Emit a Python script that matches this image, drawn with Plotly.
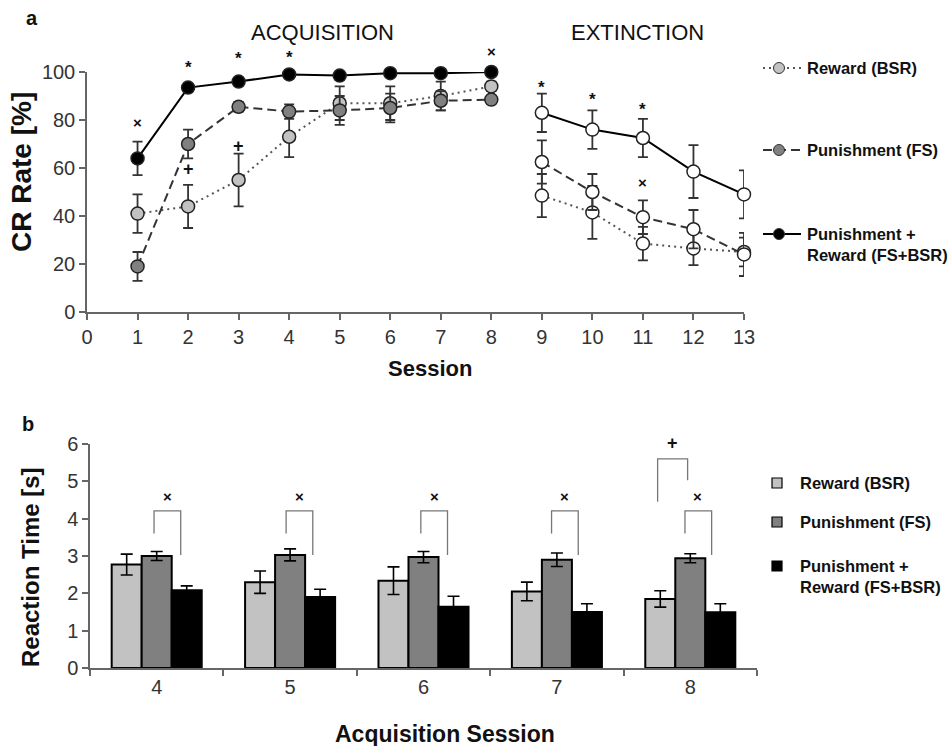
import plotly.graph_objects as go

W, H = 950, 746

# ---------------- Data: panel a (CR rate) ----------------
acq_sessions = [1, 2, 3, 4, 5, 6, 7, 8]
ext_sessions = [9, 10, 11, 12, 13]

reward_acq = [41, 44, 55, 73, 87, 87, 90, 94]
reward_acq_err = [8, 9, 11, 8.5, 7, 7, 6, 2]
punish_acq = [19, 70, 85.5, 83.5, 84, 85, 88, 88.5]
punish_acq_err = [6, 6, 2, 3, 6, 6, 4, 1.5]
combo_acq = [64, 93.5, 96, 99, 98.5, 99.5, 99.5, 100]
combo_acq_err = [7, 1.5, 1.5, 0.5, 1, 0.5, 0.5, 0.5]

reward_ext = [48.5, 41.5, 28.5, 26.5, 25]
reward_ext_err = [9, 11, 7, 7, 6]
punish_ext = [62.5, 50, 39.5, 34.5, 24]
punish_ext_err = [9, 7.5, 7, 8, 9]
combo_ext = [83, 76, 72.5, 58.5, 49]
combo_ext_err = [8, 8, 8, 11, 10]

x_ticks_a = list(range(0, 14))
y_ticks_a = [0, 20, 40, 60, 80, 100]

# significance marks panel a: (session, y, symbol)
sig_a = [(1, 79, "×"), (2, 102, "*"), (3, 105.5, "*"), (4, 106, "*"), (8, 108.5, "×"),
         (2, 59.5, "+"), (3, 69, "+"),
         (9, 93.5, "*"), (10, 88.5, "*"), (11, 84.5, "*"), (11, 54, "×")]

# ---------------- Data: panel b (reaction time) ----------------
rt_sessions = [4, 5, 6, 7, 8]
rt_reward = [2.77, 2.3, 2.34, 2.05, 1.85]
rt_reward_err = [0.28, 0.3, 0.37, 0.25, 0.22]
rt_punish = [3.0, 3.03, 2.97, 2.9, 2.94]
rt_punish_err = [0.12, 0.16, 0.15, 0.18, 0.12]
rt_combo = [2.08, 1.9, 1.64, 1.5, 1.49]
rt_combo_err = [0.12, 0.21, 0.28, 0.22, 0.23]
y_ticks_b = [0, 1, 2, 3, 4, 5, 6]

# brackets panel b: (session, left offset, right offset, top, left bottom, right bottom, symbol, sym offset, sym y)
brackets_b = [
    (4, -0.02, 0.18, 4.21, 3.6, 3.03, "×", 0.08, 4.6),
    (5, -0.03, 0.17, 4.21, 3.6, 3.03, "×", 0.07, 4.6),
    (6, -0.02, 0.18, 4.21, 3.6, 3.03, "×", 0.08, 4.6),
    (7, -0.04, 0.16, 4.21, 3.6, 3.03, "×", 0.06, 4.6),
    (8, -0.04, 0.16, 4.21, 3.6, 3.03, "×", 0.055, 4.6),
    (8, -0.245, -0.02, 5.6, 4.45, 5.03, "+", -0.135, 6.02),
]

C_LIGHT = "#c2c2c2"
C_DARK = "#808080"
C_BLACK = "#000000"
FONT = "Liberation Sans, Arial, sans-serif"

# axis geometry (pixels in the 950x746 canvas)
XA_PX = (87, 744)
YA_PX = (312, 72)
XA_RANGE = (0, 13)
YA_RANGE = (0, 100)
XB_PX = (90, 757)
YB_PX = (668, 444)
XB_RANGE = (3.5, 8.5)
YB_RANGE = (0, 6)


def px(x):
    return x / W


def py(y):
    return 1 - y / H


XA_DOM = [px(XA_PX[0]), px(XA_PX[1])]
YA_DOM = [py(YA_PX[0]), py(YA_PX[1])]
XB_DOM = [px(XB_PX[0]), px(XB_PX[1])]
YB_DOM = [py(YB_PX[0]), py(YB_PX[1])]


def to_paper(v, rng, d):
    return d[0] + (v - rng[0]) / (rng[1] - rng[0]) * (d[1] - d[0])


fig = go.Figure()


def err(a, color="#333333"):
    return dict(type="data", array=a, visible=True, color=color, thickness=1.8, width=5)


line_styles = {
    "reward": dict(color="#555555", width=2, dash="2px,4px"),
    "punish": dict(color="#333333", width=2, dash="9px,5px"),
    "combo": dict(color="#000000", width=2),
}


def series(xv, yv, ev, style, fill):
    fig.add_trace(go.Scatter(
        x=xv, y=yv, mode="lines+markers", xaxis="x", yaxis="y",
        line=line_styles[style], error_y=err(ev),
        marker=dict(size=13, color=fill, line=dict(color="#222222", width=1.5)),
        cliponaxis=False, showlegend=False))


series(acq_sessions, reward_acq, reward_acq_err, "reward", C_LIGHT)
series(acq_sessions, punish_acq, punish_acq_err, "punish", C_DARK)
series(acq_sessions, combo_acq, combo_acq_err, "combo", C_BLACK)
series(ext_sessions, reward_ext, reward_ext_err, "reward", "white")
series(ext_sessions, punish_ext, punish_ext_err, "punish", "white")
series(ext_sessions, combo_ext, combo_ext_err, "combo", "white")

for name, vals, errs, col in [("Reward (BSR)", rt_reward, rt_reward_err, C_LIGHT),
                              ("Punishment (FS)", rt_punish, rt_punish_err, C_DARK),
                              ("Punishment + Reward (FS+BSR)", rt_combo, rt_combo_err, C_BLACK)]:
    fig.add_trace(go.Bar(
        x=rt_sessions, y=vals, name=name, xaxis="x2", yaxis="y2",
        marker=dict(color=col, line=dict(color="#000000", width=2)),
        error_y=dict(type="data", array=errs, visible=True, color="#000000", thickness=1.6, width=6),
        showlegend=False))

ann = []
shapes = []


def sym_font(sym):
    size = {"*": 17, "+": 18}.get(sym, 15)
    return dict(size=size, color="#111111", family=FONT)


def mark(xp, yp, sym):
    ann.append(dict(x=xp, y=yp, xref="paper", yref="paper", text=f"<b>{sym}</b>",
                    showarrow=False, xanchor="center", yanchor="middle", font=sym_font(sym)))


# panel a significance marks
for sx, sy, sym in sig_a:
    mark(to_paper(sx, XA_RANGE, XA_DOM), to_paper(sy, YA_RANGE, YA_DOM), sym)

# panel b brackets
for g, lo, ro, top, lb, rb, sym, so, sy in brackets_b:
    shapes.append(dict(type="path", xref="x2", yref="y2",
                       path=f"M {g+lo},{lb} L {g+lo},{top} L {g+ro},{top} L {g+ro},{rb}",
                       line=dict(color="#777777", width=1.3)))
    mark(to_paper(g + so, XB_RANGE, XB_DOM), to_paper(sy, YB_RANGE, YB_DOM), sym)


def text(xp, yp, s, size, bold=False, xanchor="center", angle=0, color="#111111"):
    ann.append(dict(x=px(xp), y=py(yp), xref="paper", yref="paper", text=(f"<b>{s}</b>" if bold else s),
                    showarrow=False, xanchor=xanchor, yanchor="middle", textangle=angle,
                    font=dict(size=size, family=FONT, color=color), align="left"))


text(32, 18, "a", 20, bold=True)
text(28, 424, "b", 20, bold=True)
text(322, 32, "ACQUISITION", 22)
text(637, 32, "EXTINCTION", 22)
text(22, 172, "CR Rate [%]", 28, bold=True, angle=-90)
text(430, 368, "Session", 22, bold=True)
text(30, 567, "Reaction Time [s]", 24, bold=True, angle=-90)
text(445, 734, "Acquisition Session", 23, bold=True)

# legend panel a
leg_a = [(68, "Reward (BSR)", "reward", C_LIGHT), (150, "Punishment (FS)", "punish", C_DARK),
         (234, "Punishment +<br>Reward (FS+BSR)", "combo", C_BLACK)]
for yy, lab, style, fill in leg_a:
    ls = dict(line_styles[style])
    shapes.append(dict(type="line", xref="paper", yref="paper", x0=px(763), x1=px(801),
                       y0=py(yy), y1=py(yy), line=ls))
    shapes.append(dict(type="circle", xref="paper", yref="paper", xsizemode="pixel", ysizemode="pixel",
                       xanchor=px(779), yanchor=py(yy), x0=-5.5, x1=5.5, y0=-5.5, y1=5.5,
                       fillcolor=fill, line=dict(color="#333333", width=1)))
    ty = yy + (10 if "<br>" in lab else 0)
    text(805, ty, lab, 16.5, bold=True, xanchor="left")

# legend panel b
leg_b = [(483, "Reward (BSR)", C_LIGHT), (522, "Punishment (FS)", C_DARK),
         (566, "Punishment +<br>Reward (FS+BSR)", C_BLACK)]
for yy, lab, fill in leg_b:
    shapes.append(dict(type="rect", xref="paper", yref="paper", xsizemode="pixel", ysizemode="pixel",
                       xanchor=px(777), yanchor=py(yy), x0=-5, x1=5, y0=-5, y1=5,
                       fillcolor=fill, line=dict(color="#000000", width=1.2)))
    ty = yy + (10 if "<br>" in lab else 0)
    text(798, ty, lab, 16.5, bold=True, xanchor="left")

axis_common = dict(showgrid=False, zeroline=False, showline=True, linecolor="#666666", linewidth=1.5,
                   ticks="outside", ticklen=6, tickcolor="#666666", tickwidth=1.5, automargin=False,
                   tickfont=dict(size=20, family=FONT, color="#333333"))

fig.update_layout(
    width=W, height=H, margin=dict(l=0, r=0, t=0, b=0, pad=0, autoexpand=False),
    paper_bgcolor="white", plot_bgcolor="white",
    font=dict(family=FONT),
    barmode="group", bargap=0.325, bargroupgap=0,
    xaxis=dict(domain=XA_DOM, range=list(XA_RANGE), tickvals=x_ticks_a, anchor="y", **axis_common),
    yaxis=dict(domain=YA_DOM, range=list(YA_RANGE), tickvals=y_ticks_a, anchor="x", **axis_common),
    xaxis2=dict(domain=XB_DOM, range=list(XB_RANGE), tickvals=rt_sessions, anchor="y2",
                showgrid=False, zeroline=False, showline=True, linecolor="#666666", linewidth=1.5,
                ticks="", automargin=False, tickfont=dict(size=20, family=FONT, color="#333333"),
                minor=dict(tickvals=[3.5, 4.5, 5.5, 6.5, 7.5, 8.5], ticks="outside", ticklen=6,
                           tickcolor="#666666", tickwidth=1.5)),
    yaxis2=dict(domain=YB_DOM, range=list(YB_RANGE), tickvals=y_ticks_b, anchor="x2", **axis_common),
    annotations=ann, shapes=shapes,
)

fig.write_html("out.html", config={"displayModeBar": False},
               post_script="document.body.style.margin='0';document.body.style.overflow='hidden';")
